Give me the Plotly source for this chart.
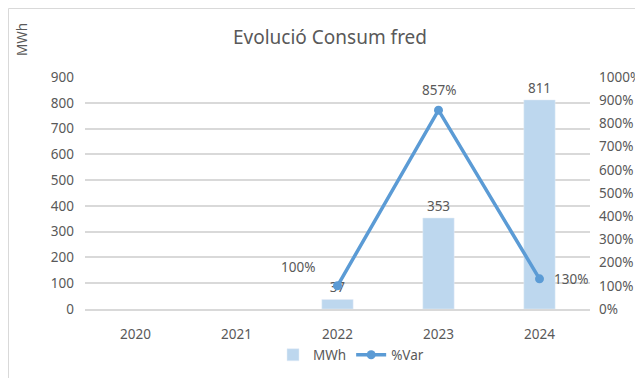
import plotly.graph_objects as go

years = ["2020", "2021", "2022", "2023", "2024"]
mwh = [None, None, 37, 353, 811]
var_pct = [None, None, 1.00, 8.57, 1.30]
mwh_labels = ["", "", "37", "353", "811"]
var_labels = ["", "", "100%", "857%", "130%"]

OFF = 8  # page body margin
W, H = 643 - OFF, 378 - OFF
L, T = 85 - OFF, 77 - OFF
R = W - (590 - OFF)
B = H - (309 - OFF)
pw, ph = W - L - R, H - T - B
FONT = "Noto Sans"
GREY = "#595959"
FS = 13.5


def px(x):
    return (x - OFF - L) / pw


def py(y):
    return (H - B - (y - OFF)) / ph


fig = go.Figure()
fig.add_trace(go.Bar(
    x=years, y=mwh, name="MWh", marker_color="#BDD7EE",
    text=mwh_labels, textposition="outside", cliponaxis=False,
    textfont=dict(size=FS, color=GREY, family=FONT),
))
fig.add_trace(go.Scatter(
    x=years, y=var_pct, name="%Var", yaxis="y2", mode="lines+markers",
    line=dict(color="#5B9BD5", width=3.5), marker=dict(size=9, color="#5B9BD5"),
    cliponaxis=False,
))

# label offsets (pixels) for the %Var labels
label_shift = {"2022": (-40, 19, "center"), "2023": (0, 20, "center"), "2024": (12, 0, "left")}
annotations = []
for i, (yr, v, lab) in enumerate(zip(years, var_pct, var_labels)):
    if v is None:
        continue
    dx, dy, anc = label_shift[yr]
    annotations.append(dict(x=i, y=v, xref="x", yref="y2", text=lab, showarrow=False,
                            xshift=dx, yshift=dy, xanchor=anc, yanchor="middle",
                            font=dict(size=FS, color=GREY, family=FONT)))

annotations.append(dict(text="MWh", textangle=-90, xref="paper", yref="paper",
                        x=px(22), y=py(40), showarrow=False,
                        xanchor="center", yanchor="middle",
                        font=dict(size=FS, color=GREY, family=FONT)))

fig.update_layout(
    width=W, height=H, margin=dict(l=L, r=R, t=T, b=B, autoexpand=False),
    paper_bgcolor="white", plot_bgcolor="white",
    font=dict(family=FONT, size=FS, color=GREY),
    title=dict(text="Evolució Consum fred", x=(330 - OFF) / W, xanchor="center",
               y=1 - (37 - OFF) / H, yanchor="middle",
               font=dict(size=19, color=GREY, family=FONT)),
    bargap=0.69,
    showlegend=True,
    legend=dict(orientation="h", x=px(351), xanchor="center",
                y=py(355), yanchor="middle",
                font=dict(size=FS, color=GREY, family=FONT)),
    xaxis=dict(type="category", categoryorder="array", categoryarray=years,
               range=[-0.5, len(years) - 0.5],
               showgrid=False, showline=True, linecolor="#D9D9D9", linewidth=1.5,
               ticks="", ticklabelstandoff=12, automargin=False,
               tickfont=dict(size=FS, color=GREY)),
    yaxis=dict(range=[0, 900], dtick=100, showgrid=True, gridcolor="#D9D9D9",
               gridwidth=1.5, zeroline=False, ticks="", ticklabelstandoff=10,
               automargin=False, tickfont=dict(size=FS, color=GREY)),
    yaxis2=dict(range=[0, 10], dtick=1, tickformat=".0%", overlaying="y", side="right",
                showgrid=False, zeroline=False, ticks="", ticklabelstandoff=8,
                automargin=False, tickfont=dict(size=FS, color=GREY)),
    annotations=annotations,
    shapes=[dict(type="rect", xref="paper", yref="paper",
                 x0=px(8.5), x1=px(700),
                 y0=py(400), y1=py(8.5),
                 line=dict(color="#D9D9D9", width=1), layer="below")],
)

fig.write_html("out.html")
